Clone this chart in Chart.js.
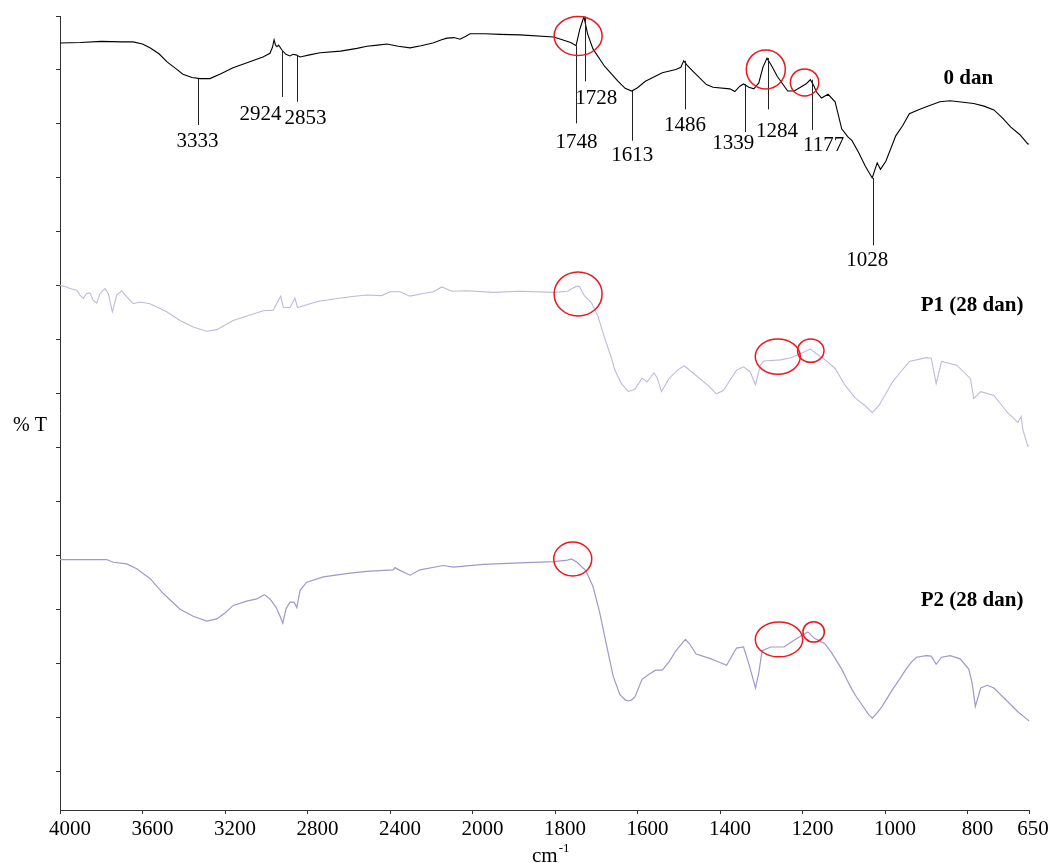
<!DOCTYPE html>
<html>
<head>
<meta charset="utf-8">
<script src="https://cdn.jsdelivr.net/npm/chart.js@4.4.1/dist/chart.umd.min.js"></script>
<style>
html,body{margin:0;padding:0;background:#fff;}
canvas{display:block;}
</style>
</head>
<body>
<canvas id="c" width="1051" height="863"></canvas>
<script>
// ---------- data (wavenumber cm-1, %T in arbitrary offset units) ----------
const xTickLabels = [4000,3600,3200,2800,2400,2000,1800,1600,1400,1200,1000,800,650];
const yTickValues = [0,10,20,30,40,50,60,70,80,90,100,110,120,130,140];

const danWn = [4000,3900,3800,3700,3646,3600,3564,3520,3481,3440,3404,3360,3321,3273,3220,3161,3090,3016,2982,2970,2962,2955,2948,2940,2924,2905,2885,2870,2856,2836,2790,2739,2640,2560,2512,2460,2415,2360,2303,2250,2192,2150,2124,2090,2061,2030,2012,1970,1933,1885,1803,1762,1749,1740,1730,1721,1708,1680,1647,1630,1614,1600,1581,1540,1507,1495,1488,1480,1466,1433,1417,1376,1364,1352,1343,1330,1318,1306,1296,1286,1275,1261,1236,1220,1203,1190,1181,1172,1167,1154,1138,1121,1105,1090,1080,1064,1048,1031,1019,1011,998,974,957,941,920,900,867,842,785,760,736,715,695,673,654,650];
const danT  = [135.0,135.1,135.3,135.2,135.2,134.8,134.1,133.0,131.5,130.3,129.2,128.6,128.4,128.4,129.3,130.4,131.4,132.4,133.1,134.2,135.6,134.6,134.3,134.6,133.7,132.9,132.6,132.9,132.8,132.4,132.8,133.2,133.5,134.0,134.4,134.6,134.8,134.4,134.1,134.5,135.0,135.6,135.9,136.0,135.7,136.3,136.7,136.7,136.6,136.5,136.1,135.1,134.5,137.5,139.9,136.7,133.9,130.7,127.9,126.6,126.1,126.7,127.9,129.5,130.1,130.5,131.7,130.9,129.8,127.3,126.8,126.5,126.0,127.0,127.4,126.8,126.5,127.6,130.5,132.2,130.8,128.8,126.1,126.1,126.9,127.5,128.2,127.0,126.0,124.8,125.5,124.1,119.1,117.6,116.9,114.7,112.2,110.0,112.8,111.6,113.1,117.8,119.7,121.9,122.6,123.2,124.1,124.3,123.8,123.3,122.6,121.1,119.4,118.0,116.3,116.3];

const p1Wn = [4000,3968,3952,3919,3903,3887,3871,3855,3839,3822,3806,3782,3766,3746,3725,3701,3677,3660,3645,3612,3564,3531,3483,3418,3354,3289,3240,3160,3079,3014,2966,2942,2930,2917,2885,2861,2848,2788,2739,2594,2513,2440,2400,2352,2303,2240,2190,2149,2100,2028,1950,1885,1803,1770,1749,1741,1729,1712,1696,1680,1663,1655,1639,1622,1606,1589,1577,1560,1552,1542,1524,1503,1487,1458,1425,1409,1392,1360,1343,1327,1314,1302,1294,1253,1228,1203,1181,1162,1142,1121,1097,1072,1048,1031,1015,982,941,900,888,876,863,826,793,785,768,736,703,678,670,666,654,650];
const p1T  = [90.1,89.8,89.5,89.2,88.3,87.7,88.6,88.7,87.3,86.8,88.6,89.5,88.6,85.2,88.3,89.1,88.0,87.3,86.7,87.0,86.7,86.1,85.2,83.6,82.4,81.6,81.9,83.6,84.6,85.4,85.5,87.3,88.1,86.0,86.0,87.7,86.0,86.7,87.2,88.0,88.3,88.2,88.9,88.9,88.1,88.6,88.9,89.8,89.0,89.1,88.8,89.0,88.8,89.0,89.9,89.9,88.2,86.9,84.4,80.4,76.6,74.4,71.9,70.4,70.9,72.9,72.2,73.9,72.9,70.4,72.8,74.4,75.2,73.4,71.3,70.0,70.6,74.4,75.0,74.1,71.7,75.3,76.1,76.3,76.7,77.5,78.3,77.2,76.1,74.7,71.6,69.2,67.8,66.5,67.8,72.2,76.0,76.7,76.6,71.9,76.0,75.3,72.8,69.1,70.4,69.7,66.5,64.7,65.8,63.4,60.3,60.5];

const p2Wn = [4000,3903,3822,3774,3742,3677,3628,3564,3499,3418,3354,3289,3240,3200,3160,3095,3046,3009,2982,2953,2933,2920,2904,2885,2865,2852,2836,2804,2723,2594,2513,2384,2376,2352,2303,2255,2141,2093,1974,1885,1803,1770,1760,1745,1725,1708,1692,1675,1659,1643,1630,1622,1614,1606,1589,1573,1556,1540,1524,1507,1484,1474,1458,1425,1409,1384,1360,1343,1331,1314,1306,1298,1277,1245,1228,1203,1187,1171,1146,1130,1105,1092,1080,1068,1056,1040,1031,1020,1007,982,965,949,936,924,900,888,876,863,842,818,797,789,781,768,752,736,703,678,654,650];
const p2T  = [39.3,39.3,39.3,39.3,38.8,38.5,37.6,35.8,33.0,30.1,28.8,27.9,28.3,29.4,30.8,31.6,32.0,32.8,32.0,30.5,28.8,27.5,30.2,31.4,31.4,30.4,33.6,35.1,36.1,36.8,37.1,37.4,37.8,37.3,36.4,37.4,38.2,37.9,38.4,38.7,38.9,39.2,39.4,38.7,37.2,34.3,29.6,23.4,17.7,14.3,13.3,13.1,13.3,13.9,17.1,18.0,18.8,18.8,20.3,22.4,24.5,23.7,21.8,21.0,20.5,19.7,22.9,23.1,20.2,15.5,18.3,22.4,23.1,23.1,24.0,25.2,25.9,24.7,23.7,22.1,19.0,17.0,15.2,13.7,12.4,10.6,9.9,10.8,12.1,15.2,17.1,19.0,20.3,21.2,21.5,21.4,19.9,21.2,21.5,20.9,19.0,16.5,12.1,15.5,16.0,15.5,13.0,11.1,9.6,9.4];

const seriesNames = ['0 dan','P1 (28 dan)','P2 (28 dan)'];
const peakLabels = ['3333','2924','2853','1748','1728','1613','1486','1339','1284','1177','1028'];

// ---------- annotation placement (data units) ----------
const peakMarks = [
  {wn:3333, from:128.4, to:119.8, lx:3333, ly:116.7},
  {wn:2924, from:133.7, to:125.0, lx:3028, ly:121.7},
  {wn:2853, from:132.8, to:124.1, lx:2810, ly:121.1},
  {wn:1748, from:134.5, to:120.1, lx:1748, ly:116.5},
  {wn:1728, from:139.9, to:127.9, lx:1700, ly:124.7},
  {wn:1613, from:126.1, to:116.9, lx:1613, ly:114.1},
  {wn:1486, from:131.7, to:122.7, lx:1485, ly:119.8},
  {wn:1339, from:127.4, to:118.5, lx:1368, ly:116.3},
  {wn:1284, from:132.2, to:122.7, lx:1262, ly:118.6},
  {wn:1177, from:128.2, to:118.9, lx:1149, ly:116.1},
  {wn:1028, from:110.0, to:97.5,  lx:1043, ly:94.7}
];
const circles = [
  {wn:1744, t:136.3, rx:24, ry:19.5},
  {wn:1289, t:130.1, rx:19.5, ry:19.5},
  {wn:1195, t:127.7, rx:14.2, ry:13.5},
  {wn:1744, t:88.5, rx:24, ry:22},
  {wn:1260, t:76.9, rx:22.5, ry:17.6},
  {wn:1180, t:78.0, rx:13.2, ry:11.7},
  {wn:1757, t:39.4, rx:19, ry:17},
  {wn:1257, t:24.5, rx:23.7, ry:17.4},
  {wn:1173, t:25.9, rx:10.7, ry:10.2}
];
const seriesLabelPos = [
  {wn:798, t:128.4},
  {wn:789, t:86.3},
  {wn:789, t:31.7}
];

// ---------- piecewise x axis (4000-2000 compressed 2x) ----------
function toPos(w){ return w >= 2000 ? (4000 - w) / 2 : 1000 + (2000 - w); }
function fromPos(p){ return p <= 1000 ? 4000 - 2 * p : 2000 - (p - 1000); }

function pts(wn, t){ return wn.map((w, i) => ({x: toPos(w), y: t[i]})); }

const FONT = "'Liberation Serif', 'Times New Roman', serif";

const annot = {
  id: 'annot',
  afterDatasetsDraw(chart){
    const ctx = chart.ctx, xs = chart.scales.x, ys = chart.scales.y;
    const X = w => xs.getPixelForValue(toPos(w));
    const Y = v => ys.getPixelForValue(v);
    ctx.save();
    // peak marker lines & labels
    ctx.strokeStyle = '#222';
    ctx.lineWidth = 1;
    ctx.fillStyle = '#000';
    ctx.font = '21px ' + FONT;
    ctx.textAlign = 'center';
    ctx.textBaseline = 'middle';
    peakMarks.forEach((m, i) => {
      const x = Math.round(X(m.wn)) + 0.5;
      ctx.beginPath();
      ctx.moveTo(x, Y(m.from));
      ctx.lineTo(x, Y(m.to));
      ctx.stroke();
      ctx.fillText(peakLabels[i], X(m.lx), Y(m.ly));
    });
    // red circles
    ctx.strokeStyle = '#e8191f';
    ctx.lineWidth = 1.5;
    circles.forEach(c => {
      ctx.beginPath();
      ctx.ellipse(X(c.wn), Y(c.t), c.rx, c.ry, 0, 0, Math.PI * 2);
      ctx.stroke();
    });
    // series labels
    ctx.fillStyle = '#000';
    ctx.font = 'bold 21px ' + FONT;
    seriesLabelPos.forEach((p, i) => {
      ctx.fillText(seriesNames[i], X(p.wn), Y(p.t));
    });
    // y axis title
    ctx.font = '20px ' + FONT;
    ctx.fillText('% T', 30, (chart.chartArea.top + chart.chartArea.bottom) / 2 + 13);
    // x axis title cm-1
    ctx.textAlign = 'left';
    ctx.textBaseline = 'alphabetic';
    ctx.font = '21px ' + FONT;
    const cx = 532;
    ctx.fillText('cm', cx, 862);
    const w = ctx.measureText('cm').width;
    ctx.font = '13px ' + FONT;
    ctx.fillText('-1', cx + w + 1, 852);
    ctx.restore();
  }
};

new Chart(document.getElementById('c'), {
  type: 'line',
  data: {
    datasets: [
      {label: seriesNames[0], data: pts(danWn, danT), borderColor: '#000000', borderWidth: 1.1},
      {label: seriesNames[1], data: pts(p1Wn, p1T), borderColor: '#c2b8dc', borderWidth: 1.1},
      {label: seriesNames[2], data: pts(p2Wn, p2T), borderColor: '#a397c9', borderWidth: 1.2}
    ]
  },
  options: {
    responsive: false,
    animation: false,
    devicePixelRatio: 1,
    layout: {padding: {top: 16, right: 21.6, left: 0, bottom: 0}},
    elements: {point: {radius: 0}, line: {tension: 0}},
    plugins: {legend: {display: false}, tooltip: {enabled: false}},
    scales: {
      x: {
        type: 'linear',
        min: 0,
        max: toPos(650),
        afterBuildTicks: s => { s.ticks = xTickLabels.map(w => ({value: toPos(w)})); },
        afterFit: s => { s.height = 53; s.paddingLeft = 0; s.paddingRight = 0; },
        grid: {display: true, drawOnChartArea: false, drawTicks: true, tickLength: 4, color: '#333'},
        border: {display: true, color: '#333', width: 1},
        ticks: {
          autoSkip: false,
          maxRotation: 0,
          minRotation: 0,
          labelOffset: 10,
          padding: 3,
          color: '#000',
          font: {family: FONT, size: 21},
          callback: v => {
            const w = Math.round(fromPos(v));
            return w === 650 ? '650\u2009\u2009\u2009' : String(w);
          }
        }
      },
      y: {
        type: 'linear',
        min: -7.1,
        max: 140,
        afterBuildTicks: s => { s.ticks = yTickValues.map(v => ({value: v})); },
        afterFit: s => { s.width = 60; },
        grid: {display: true, drawOnChartArea: false, drawTicks: true, tickLength: 4, color: '#333'},
        border: {display: true, color: '#333', width: 1},
        ticks: {callback: () => '', padding: 0}
      }
    }
  },
  plugins: [annot]
});
</script>
</body>
</html>
